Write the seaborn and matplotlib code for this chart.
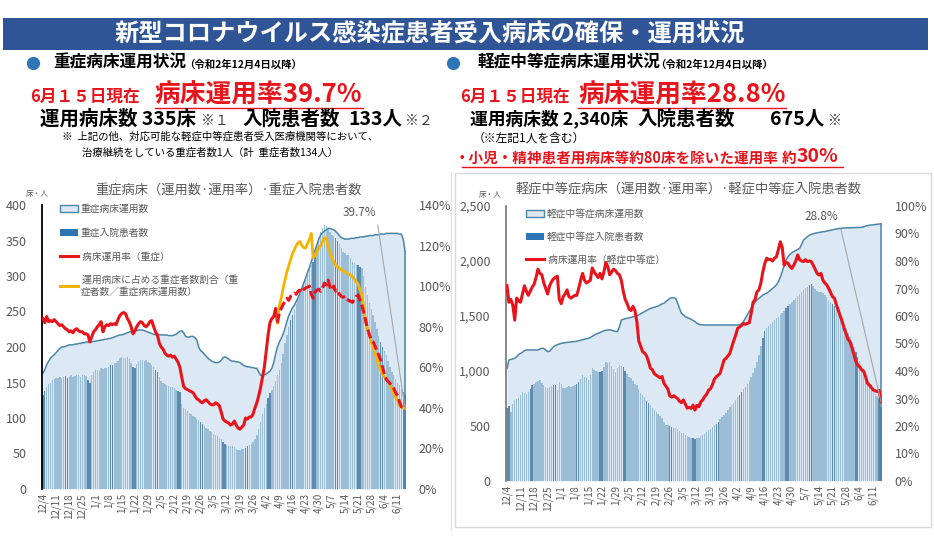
import numpy as np
import pandas as pd
import seaborn as sns
import matplotlib.pyplot as plt
from matplotlib.lines import Line2D
from matplotlib.patches import Patch, Rectangle
from matplotlib.ticker import FuncFormatter

plt.rcParams['font.family'] = ['Noto Sans CJK JP', 'DejaVu Sans']

W, H = 934, 536

# x axis labels (weekly, from 12/4 to 6/11)
date_labels = ['12/4', '12/11', '12/18', '12/25', '1/1', '1/8', '1/15', '1/22', '1/29',
               '2/5', '2/12', '2/19', '2/26', '3/5', '3/12', '3/19', '3/26', '4/2', '4/9',
               '4/16', '4/23', '4/30', '5/7', '5/14', '5/21', '5/28', '6/4', '6/11']

# ---- severe beds (daily, 12/4 - 6/15) ----
severe_patients = [
    132, 138, 144, 148, 150, 153, 155,
    156, 157, 158, 157, 158, 159, 157,
    158, 160, 158, 159, 161, 160, 158,
    160, 161, 159, 153, 150, 160, 165,
    167, 168, 166, 170, 169, 171, 170,
    172, 174, 175, 177, 178, 180, 184,
    186, 185, 184, 186, 183, 178, 172,
    170, 176, 180, 182, 181, 180, 181,
    179, 177, 175, 172, 168, 165, 158,
    152, 150, 148, 147, 145, 144, 143,
    142, 140, 138, 136, 120, 114, 112,
    110, 107, 105, 103, 101, 99, 97,
    95, 92, 89, 86, 84, 82, 80,
    78, 76, 74, 72, 70, 66, 64,
    62, 61, 60, 60, 59, 57, 55,
    55, 56, 57, 58, 60, 62, 64,
    66, 70, 76, 85, 95, 105, 114,
    120, 128, 135, 140, 145, 152, 160,
    168, 178, 190, 205, 217, 228, 238,
    245, 252, 260, 268, 275, 282, 290,
    297, 303, 310, 316, 320, 330, 342,
    353, 362, 368, 372, 370, 366, 362,
    358, 356, 353, 350, 345, 340, 334,
    332, 330, 329, 325, 320, 318, 316,
    315, 312, 311, 300, 285, 273, 262,
    254, 245, 235, 225, 215, 207, 200,
    194, 189, 180, 172, 165, 160, 155,
    150, 146, 141, 137, 133]

severe_beds = [
    163, 168, 175, 180, 184, 187, 189,
    192, 195, 198, 200, 200, 201, 202,
    203, 203, 203, 204, 204, 205, 205,
    206, 206, 207, 207, 207, 207, 208,
    208, 209, 209, 210, 210, 211, 211,
    212, 212, 213, 214, 215, 216, 217,
    217, 218, 219, 220, 221, 222, 222,
    223, 223, 224, 224, 224, 223, 222,
    221, 220, 219, 218, 217, 217, 217,
    217, 217, 217, 217, 216, 216, 216,
    217, 218, 220, 222, 223, 220, 215,
    214, 214, 215, 215, 213, 210, 200,
    195, 193, 190, 187, 184, 182, 180,
    179, 178, 178, 179, 181, 185, 186,
    185, 183, 181, 180, 180, 179, 179,
    178, 176, 174, 173, 172, 172, 171,
    171, 170, 170, 165, 160, 160, 161,
    162, 164, 166, 170, 178, 190, 200,
    207, 212, 218, 226, 236, 244, 250,
    255, 259, 264, 270, 276, 283, 290,
    297, 305, 312, 320, 328, 336, 344,
    352, 358, 361, 363, 365, 367, 367,
    366, 365, 363, 360, 357, 354, 353,
    352, 352, 352, 353, 353, 353, 354,
    354, 355, 355, 355, 356, 356, 357,
    357, 357, 358, 358, 358, 359, 359,
    359, 360, 360, 360, 360, 360, 360,
    360, 359, 359, 352, 335]

# bed usage rate (%), severe
severe_rate = [
    84.0, 82.0, 85.0, 82.5, 83.0, 82.5, 83.5,
    82.5, 81.5, 80.5, 81.0, 80.0, 79.0, 78.5,
    77.5, 78.0, 77.0, 78.5, 79.0, 78.0, 77.5,
    77.5, 76.5, 76.5, 76.0, 72.5, 75.0, 77.5,
    78.5, 80.0, 81.0, 82.5, 77.5, 80.0, 81.0,
    80.5, 81.5, 81.0, 81.5, 81.0, 83.5, 85.5,
    86.5, 87.0, 86.5, 84.0, 82.5, 80.0, 76.5,
    78.0, 80.0, 81.5, 82.5, 82.0, 80.5, 80.0,
    81.0, 82.5, 83.0, 80.0, 77.5, 76.0, 72.0,
    70.0, 69.0, 67.0, 66.0, 65.5, 66.0, 65.0,
    65.5, 64.0, 62.5, 60.0, 55.0, 50.5, 49.5,
    49.0, 48.5, 48.0, 47.5, 46.0, 44.5, 44.0,
    43.0, 42.5, 43.5, 44.0, 43.0, 42.0, 41.5,
    41.5, 42.5, 42.0, 41.0, 38.0, 34.5, 33.5,
    33.0, 32.5, 31.5, 32.0, 33.5, 31.5, 30.0,
    29.5, 30.5, 31.5, 35.0, 34.5, 35.5, 35.5,
    37.0, 40.0, 42.5, 46.0, 50.0, 55.0, 60.0,
    68.0, 76.0, 82.0, 84.0, 85.0, 89.0, 82.0,
    87.0, 89.0, 91.0, 92.5, 94.0, 93.0, 95.0,
    95.5, 96.5, 96.0, 97.5, 98.0, 97.0, 98.5,
    99.0, 99.5, 100.0, 96.0, 94.0, 97.0, 98.0,
    98.5, 97.5, 99.0, 101.5, 100.5, 103.0, 99.5,
    98.0, 100.0, 97.5, 98.0, 96.0, 95.0, 94.5,
    95.0, 93.5, 93.0, 92.5, 92.0, 93.5, 95.0,
    95.5, 93.0, 90.5, 87.0, 83.0, 79.0, 76.0,
    73.5, 72.5, 70.5, 68.0, 66.0, 63.5, 60.0,
    56.5, 54.0, 53.0, 52.0, 50.5, 49.5, 47.5,
    46.0, 43.0, 40.5, 40.0, 39.7]

# severe patients / operated beds (%), from 4/8
severe_share_start = 125
severe_share = [
    82.0,
    90.5, 94.0, 99.0, 103.0, 107.0, 110.0, 113.0,
    116.0, 118.0, 120.0, 121.5, 122.0, 120.0, 119.0,
    118.7, 121.0, 123.0, 126.0, 114.0, 115.0, 117.0,
    118.7, 120.0, 122.0, 123.6, 124.0, 118.7, 117.0,
    114.0, 112.0, 110.5, 109.5, 108.9, 108.0, 107.5,
    107.0, 106.5, 106.0, 105.4, 104.5, 103.5, 102.2,
    101.0, 98.0, 95.6, 89.0, 82.6, 79.0, 76.0,
    72.5, 70.0, 67.0, 64.0, 61.0, 58.5, 56.4,
    55.5, 54.5, 52.9, 51.0, 49.0, 47.0, 45.0,
    43.5, 41.3, 40.5, 40.0, 39.7]

# ---- mild / moderate beds ----
mild_patients = [
    661, 680, 630, 700, 736, 745, 751,
    780, 812, 800, 790, 812, 840, 873,
    880, 900, 910, 918, 890, 870, 854,
    850, 857, 860, 870, 873, 830, 903,
    880, 842, 850, 855, 860, 858, 865,
    870, 880, 900, 930, 964, 950, 940,
    918, 960, 1024, 1010, 1000, 990, 994,
    1000, 1040, 1085, 1070, 1085, 1050, 1020,
    994, 1030, 1055, 1045, 1039, 1000, 970,
    950, 933, 910, 880, 873, 840, 797,
    782, 760, 730, 706, 690, 660, 645,
    630, 610, 590, 570, 540, 510, 505,
    500, 495, 485, 479, 470, 455, 440,
    435, 420, 410, 400, 395, 388, 385,
    388, 395, 410, 420, 430, 448, 460,
    475, 490, 505, 520, 539, 560, 580,
    600, 620, 645, 670, 690, 710, 736,
    760, 785, 810, 835, 857, 880, 910,
    945, 980, 1024, 1085, 1150, 1230, 1300,
    1360, 1388, 1410, 1430, 1450, 1465, 1479,
    1495, 1510, 1530, 1550, 1570, 1590, 1610,
    1630, 1650, 1661, 1680, 1700, 1720, 1735,
    1752, 1765, 1778, 1788, 1770, 1750, 1730,
    1721, 1715, 1705, 1691, 1670, 1650, 1630,
    1610, 1590, 1570, 1540, 1505, 1470, 1430,
    1388, 1350, 1310, 1265, 1220, 1176, 1130,
    1090, 1050, 1010, 964, 930, 900, 870,
    812, 790, 770, 751, 675]

mild_beds = [
    1024, 1100, 1105, 1110, 1115, 1130, 1150,
    1160, 1170, 1185, 1191, 1191, 1191, 1191,
    1191, 1191, 1191, 1200, 1206, 1206, 1190,
    1176, 1180, 1200, 1221, 1230, 1240, 1245,
    1252, 1255, 1258, 1260, 1262, 1265, 1266,
    1267, 1270, 1275, 1280, 1285, 1290, 1294,
    1297, 1305, 1315, 1325, 1335, 1342, 1350,
    1358, 1365, 1370, 1373, 1375, 1370, 1365,
    1360, 1358, 1400, 1464, 1470, 1475, 1479,
    1482, 1486, 1490, 1494, 1500, 1510, 1520,
    1530, 1540, 1550, 1560, 1568, 1575, 1580,
    1585, 1590, 1600, 1610, 1616, 1630, 1645,
    1660, 1667, 1665, 1661, 1620, 1570, 1525,
    1510, 1495, 1485, 1479, 1470, 1460, 1449,
    1434, 1425, 1420, 1420, 1418, 1418, 1418,
    1418, 1418, 1418, 1418, 1418, 1418, 1418,
    1418, 1418, 1418, 1418, 1418, 1418, 1418,
    1418, 1420, 1430, 1449, 1480, 1510, 1540,
    1570, 1600, 1625, 1645, 1660, 1675, 1690,
    1700, 1706, 1720, 1735, 1750, 1765, 1782,
    1810, 1850, 1900, 1960, 2010, 2039, 2060,
    2075, 2085, 2095, 2105, 2115, 2150, 2190,
    2206, 2220, 2235, 2242, 2248, 2252, 2256,
    2260, 2262, 2266, 2268, 2272, 2276, 2280,
    2284, 2288, 2292, 2295, 2297, 2298, 2300,
    2300, 2301, 2302, 2302, 2303, 2304, 2305,
    2305, 2306, 2310, 2318, 2322, 2325, 2327,
    2330, 2332, 2334, 2336, 2340]

mild_rate = [
    71.0, 65.0, 66.0, 64.0, 58.5, 66.5, 65.5,
    65.0, 68.0, 71.0, 69.0, 67.5, 69.0, 70.5,
    71.5, 74.0, 77.0, 75.5, 75.0, 72.0, 70.0,
    68.0, 71.0, 72.5, 73.5, 74.0, 74.5, 66.0,
    64.5, 67.0, 68.0, 69.5, 67.0, 66.5, 67.0,
    67.5, 67.5, 70.0, 73.0, 75.5, 73.0, 72.0,
    72.5, 73.0, 77.5, 76.0, 75.0, 74.0, 75.5,
    73.5, 76.0, 79.5, 78.0, 75.0, 76.0, 77.0,
    76.5, 75.5, 75.0, 73.0, 69.0, 66.0, 64.5,
    62.5, 62.0, 63.5, 62.0, 58.0, 51.0, 49.0,
    47.0, 46.5, 45.5, 43.5, 41.0, 40.5, 39.0,
    38.5, 38.0, 37.5, 38.0, 35.5, 34.5, 33.5,
    31.0, 30.5, 31.0, 30.5, 30.0, 29.0, 28.5,
    29.5, 28.0, 26.5, 26.8, 26.4, 27.6, 25.8,
    27.5, 27.0, 28.8, 29.5, 30.7, 31.5, 33.0,
    33.5, 35.0, 37.0, 37.9, 38.5, 39.2, 41.6,
    44.0, 44.6, 45.5, 46.4, 48.8, 51.0, 53.0,
    55.5, 56.0, 56.5, 57.3, 57.0, 57.3, 57.5,
    61.0, 65.0, 66.0, 68.8, 69.5, 72.0, 76.0,
    79.0, 81.0, 80.5, 80.6, 80.0, 81.0, 81.5,
    84.0, 87.0, 85.0, 78.5, 79.5, 79.2, 78.0,
    77.3, 78.5, 80.0, 82.2, 80.5, 80.0, 79.8,
    80.5, 79.8, 80.0, 79.8, 78.5, 77.0, 75.5,
    74.9, 75.5, 73.0, 72.0, 71.3, 70.0, 68.5,
    67.0, 66.4, 64.0, 62.0, 60.0, 57.9, 55.5,
    53.5, 51.5, 50.7, 48.5, 46.0, 43.5, 42.2,
    41.5, 40.4, 40.0, 38.0, 35.5, 34.9, 34.0,
    33.1, 32.8, 32.5, 33.0, 28.8]

AREA = '#dce9f5'
AREA_EDGE = '#4a85a8'
BAR = '#92bfe0'
BAR_DARK = '#4f8dbd'
RED = '#e8141c'
YELLOW = '#f5b400'
GRAY = '#595959'
BANNER = '#2f5597'

days = np.arange(len(severe_patients))
shade = np.where(days % 12 < 2, 'd', 'l')
sev = pd.DataFrame({'day': days, 'patients': severe_patients, 'beds': severe_beds,
                    'rate': severe_rate, 'shade': shade})
mild = pd.DataFrame({'day': days, 'patients': mild_patients, 'beds': mild_beds,
                     'rate': mild_rate, 'shade': shade})
share = pd.DataFrame({'day': days[severe_share_start:], 'share': severe_share})

fig = plt.figure(figsize=(W / 100, H / 100), dpi=100)


def px(x, y):
    return x / W, 1 - y / H


def put(x, y, s, **kw):
    fig.text(*px(x, y), s, va='center', **kw)


def hline(x0, x1, y, color, lw=1.0):
    fig.add_artist(Line2D([x0 / W, x1 / W], [1 - y / H, 1 - y / H], color=color, lw=lw,
                          transform=fig.transFigure))


# banner
fig.add_artist(Rectangle(px(3, 50), 925 / W, 32 / H, transform=fig.transFigure,
                         facecolor=BANNER, edgecolor='none'))
put(430, 34, '新型コロナウイルス感染症患者受入病床の確保・運用状況', ha='center',
    color='white', size=17.5, weight='bold')

# left header
fig.add_artist(Line2D([33 / W], [1 - 63 / H], marker='o', ms=8.5, color='#2e75b6',
                      transform=fig.transFigure))
put(53, 63, '重症病床運用状況', size=12, weight='bold')
put(184, 65, '（令和2年12月4日以降）', size=7.5, weight='bold')
put(30, 97, '6月１５日現在', size=12, weight='bold', color=RED)
put(154, 95, '病床運用率39.7%', size=18.5, weight='bold', color=RED)
hline(155, 363, 108, RED)
put(40, 119, '運用病床数 335床', size=14, weight='bold')
put(201, 121, '※１', size=10, color='#404040')
put(242, 119, '入院患者数', size=14, weight='bold')
put(348, 119, '133人', size=14, weight='bold')
put(405, 121, '※２', size=10, color='#404040')
put(62, 137, '※  上記の他、対応可能な軽症中等症患者受入医療機関等において、', size=7.5)
put(82, 152, '治療継続をしている重症者数1人（計  重症者数134人）', size=7.5)

# right header
fig.add_artist(Line2D([453 / W], [1 - 63 / H], marker='o', ms=8.5, color='#2e75b6',
                      transform=fig.transFigure))
put(478, 63, '軽症中等症病床運用状況', size=12, weight='bold')
put(655, 65, '（令和2年12月4日以降）', size=7.5, weight='bold')
put(460, 97, '6月１５日現在', size=12, weight='bold', color=RED)
put(578, 95, '病床運用率28.8%', size=18.5, weight='bold', color=RED)
hline(578, 786, 108, RED)
put(470, 119, '運用病床数 2,340床', size=12.8, weight='bold')
put(637, 119, '入院患者数', size=14, weight='bold')
put(770, 119, '675人', size=14, weight='bold')
put(828, 121, '※', size=10, color='#404040')
put(473, 138, '（※左記1人を含む）', size=8.5)
put(455, 158, '・小児・精神患者用病床等約80床を除いた運用率', size=10.5, weight='bold', color=RED)
put(782, 158, '約', size=10.5, weight='bold', color=RED)
put(797, 157, '30%', size=14, weight='bold', color=RED)
hline(462, 843, 167, RED)

# right panel frame
fig.add_artist(Rectangle(px(455, 527), 476 / W, 354 / H, transform=fig.transFigure,
                         facecolor='none', edgecolor='#d9d9d9', lw=1))
fig.add_artist(Line2D([451 / W, 451 / W], [1 - 172 / H, 1 - 530 / H], color='#e3e3e3', lw=1,
                      transform=fig.transFigure))


def draw_panel(df, rect, ymax, yticks, pmax, pticks, spine_color):
    ax = fig.add_axes(rect)
    ax2 = ax.twinx()
    ax.fill_between(df['day'], df['beds'], color=AREA, zorder=0.5, lw=0)
    sns.barplot(data=df, x='day', y='patients', hue='shade', palette={'l': BAR, 'd': BAR_DARK},
                native_scale=True, width=0.72, dodge=False, errorbar=None, legend=False,
                linewidth=0, ax=ax)
    sns.lineplot(data=df, x='day', y='beds', color=AREA_EDGE, lw=1.1, estimator=None, ax=ax)
    ax.vlines(df['day'].iloc[-1], 0, df['beds'].iloc[-1], color=AREA_EDGE, lw=1.1)
    ax.set_xlim(-0.5, len(df) - 0.5)
    ax.set_ylim(0, ymax)
    ax.set_yticks(yticks)
    ax.yaxis.set_major_formatter(FuncFormatter(lambda v, _: f'{int(v):,}'))
    ax.set_xticks(np.arange(0, len(df), 7))
    ax.set_xticklabels(date_labels, rotation=90)
    ax2.set_ylim(0, pmax)
    ax2.set_yticks(pticks)
    ax2.yaxis.set_major_formatter(FuncFormatter(lambda v, _: f'{int(v)}%'))
    for a in (ax, ax2):
        a.set_xlabel('')
        a.set_ylabel('')
        a.set_facecolor('none')
        for s in a.spines.values():
            s.set_visible(False)
    ax.spines['left'].set_visible(True)
    ax.spines['left'].set_color(spine_color)
    ax.spines['left'].set_linewidth(1.3)
    ax.tick_params(axis='y', length=0, pad=11, labelsize=9, labelcolor=GRAY)
    ax.tick_params(axis='x', length=0, pad=3, labelsize=7, labelcolor=GRAY)
    ax2.tick_params(axis='y', length=0, pad=9, labelsize=9, labelcolor=GRAY)
    return ax, ax2


# ---- left chart: severe ----
ax, ax2 = draw_panel(sev, [42 / W, 1 - 489 / H, 364 / W, 284 / H], 400, range(0, 401, 50),
                     140, range(0, 141, 20), '#000000')
sns.lineplot(data=sev.iloc[:severe_share_start + 1], x='day', y='rate', color=RED, lw=2.2,
             estimator=None, ax=ax2)
sns.lineplot(data=share, x='day', y='share', color=YELLOW, lw=2.0, estimator=None, ax=ax2)
sns.lineplot(data=sev.iloc[severe_share_start:], x='day', y='rate', color=RED, lw=2.2,
             linestyle=(0, (3, 1.2)), estimator=None, ax=ax2)
ax2.set_ylabel('')
ax2.annotate('39.7%', xy=(193, 39.7), xytext=(376, H - 213), textcoords='figure pixels',
             ha='right', va='center', size=8.5, color=GRAY,
             arrowprops=dict(arrowstyle='-', color='#a6a6a6', lw=0.8, relpos=(1, 0.5),
                             shrinkA=2, shrinkB=0))
put(229, 190, '重症病床（運用数·運用率）·重症入院患者数', ha='center', size=9.5, color=GRAY)
put(37, 194, '床・人', ha='center', size=5.5, color=GRAY)
handles = [Patch(facecolor=AREA, edgecolor=AREA_EDGE, lw=1), Patch(facecolor='#2e75b6'),
           Line2D([], [], color=RED, lw=2.2), Line2D([], [], color=YELLOW, lw=2.2)]
labels = ['重症病床運用数', '重症入院患者数', ' 病床運用率（重症）',
          ' 運用病床に占める重症者数割合（重\n症者数／重症病床運用数）']
ax2.legend(handles, labels, loc='upper left', bbox_to_anchor=px(60, 204),
           bbox_transform=fig.transFigure, frameon=False, fontsize=7, labelcolor=GRAY,
           handlelength=1.9, handletextpad=0.2, labelspacing=1.4, borderpad=0,
           borderaxespad=0)

# ---- right chart: mild / moderate ----
bx, bx2 = draw_panel(mild, [506 / W, 1 - 481 / H, 376 / W, 275 / H], 2500,
                     range(0, 2501, 500), 100, range(0, 101, 10), '#7f7f7f')
sns.lineplot(data=mild, x='day', y='rate', color=RED, lw=2.2, estimator=None, ax=bx2)
bx2.set_ylabel('')
bx2.annotate('28.8%', xy=(193, 28.8), xytext=(838, H - 217), textcoords='figure pixels',
             ha='right', va='center', size=8.5, color=GRAY,
             arrowprops=dict(arrowstyle='-', color='#a6a6a6', lw=0.8, relpos=(1, 0.5),
                             shrinkA=2, shrinkB=0))
put(688, 189, '軽症中等症病床（運用数·運用率）·軽症中等症入院患者数', ha='center', size=9.5,
    color=GRAY)
put(490, 195, '床・人', ha='center', size=5.5, color=GRAY)
handles = [Patch(facecolor=AREA, edgecolor=AREA_EDGE, lw=1), Patch(facecolor='#2e75b6'),
           Line2D([], [], color=RED, lw=2.2)]
labels = ['軽症中等症病床運用数', '軽症中等症入院患者数', ' 病床運用率（軽症中等症）']
bx2.legend(handles, labels, loc='upper left', bbox_to_anchor=px(526, 209),
           bbox_transform=fig.transFigure, frameon=False, fontsize=7, labelcolor=GRAY,
           handlelength=1.9, handletextpad=0.2, labelspacing=1.3, borderpad=0,
           borderaxespad=0)

fig.savefig('out.png', dpi=100, facecolor='white')
